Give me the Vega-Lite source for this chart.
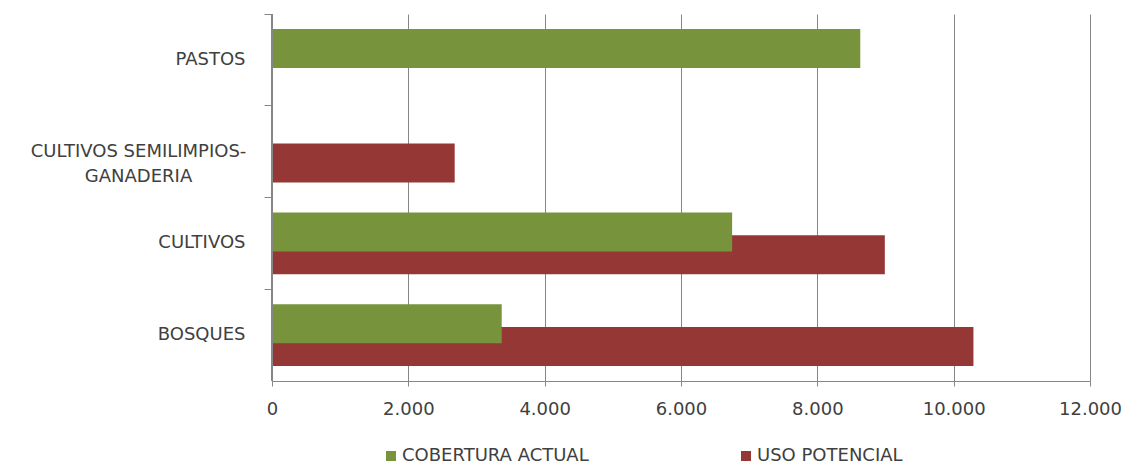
{
  "$schema": "https://vega.github.io/schema/vega-lite/v6.json",
  "width": 818,
  "height": 367,
  "autosize": {"type": "none"},
  "padding": {"left": 272, "top": 14, "right": 35, "bottom": 85},
  "background": "white",
  "config": {
    "view": {"stroke": null},
    "font": "DejaVu Sans",
    "locale": {"number": {"decimal": ",", "thousands": ".", "grouping": [3], "currency": ["$", ""]}},
    "axis": {
      "labelFont": "DejaVu Sans",
      "labelFontSize": 18,
      "labelColor": "#404040",
      "domainColor": "#868686",
      "domainWidth": 1,
      "tickColor": "#868686",
      "gridColor": "#868686",
      "gridOpacity": 1,
      "title": null
    }
  },
  "data": {
    "values": [
      {"uso": "PASTOS", "serie": "COBERTURA ACTUAL", "ha": 8630},
      {"uso": "PASTOS", "serie": "USO POTENCIAL", "ha": 0},
      {"uso": "CULTIVOS SEMILIMPIOS-GANADERIA", "serie": "COBERTURA ACTUAL", "ha": 0},
      {"uso": "CULTIVOS SEMILIMPIOS-GANADERIA", "serie": "USO POTENCIAL", "ha": 2680},
      {"uso": "CULTIVOS", "serie": "COBERTURA ACTUAL", "ha": 6750},
      {"uso": "CULTIVOS", "serie": "USO POTENCIAL", "ha": 8990},
      {"uso": "BOSQUES", "serie": "COBERTURA ACTUAL", "ha": 3370},
      {"uso": "BOSQUES", "serie": "USO POTENCIAL", "ha": 10290}
    ]
  },
  "encoding": {
    "y": {
      "field": "uso",
      "type": "nominal",
      "sort": ["PASTOS", "CULTIVOS SEMILIMPIOS-GANADERIA", "CULTIVOS", "BOSQUES"],
      "scale": {"paddingInner": 0, "paddingOuter": 0},
      "axis": {
        "bandPosition": 0,
        "tickSize": 8,
        "grid": false,
        "domain": true,
        "zindex": 1,
        "labelLineHeight": 25,
        "labelLimit": 300,
        "labelExpr": "datum.value === 'CULTIVOS SEMILIMPIOS-GANADERIA' ? ['CULTIVOS SEMILIMPIOS-', 'GANADERIA'] : datum.value",
        "labelAlign": {"condition": {"test": "datum.value === 'CULTIVOS SEMILIMPIOS-GANADERIA'", "value": "center"}, "value": "right"},
        "labelPadding": {"condition": {"test": "datum.value === 'CULTIVOS SEMILIMPIOS-GANADERIA'", "value": 126}, "value": 19}
      }
    },
    "x": {
      "field": "ha",
      "type": "quantitative",
      "scale": {"domain": [0, 12000], "nice": false},
      "axis": {
        "values": [0, 2000, 4000, 6000, 8000, 10000, 12000],
        "format": ",d",
        "grid": true,
        "tickSize": 5,
        "labelFlush": false,
        "labelPadding": 14
      }
    },
    "color": {
      "field": "serie",
      "type": "nominal",
      "scale": {"domain": ["COBERTURA ACTUAL", "USO POTENCIAL"], "range": ["#77933C", "#953735"]},
      "legend": {
        "title": null,
        "orient": "none",
        "direction": "horizontal",
        "legendX": 110,
        "legendY": 433,
        "padding": 0,
        "symbolType": "square",
        "symbolSize": 100,
        "symbolStrokeWidth": 0,
        "symbolOpacity": 1,
        "labelFont": "DejaVu Sans",
        "labelFontSize": 18,
        "labelColor": "#404040",
        "labelLimit": 400,
        "labelOffset": 2,
        "columnPadding": 148
      }
    }
  },
  "layer": [
    {
      "transform": [{"filter": "datum.serie === 'USO POTENCIAL'"}],
      "mark": {"type": "bar", "height": 39, "yOffset": 11.3}
    },
    {
      "transform": [{"filter": "datum.serie === 'COBERTURA ACTUAL'"}],
      "mark": {"type": "bar", "height": 39, "yOffset": -11.3}
    },
    {
      "mark": {"type": "rule", "color": "#868686", "strokeWidth": 1.2},
      "encoding": {"x": {"datum": 0}, "y": null, "color": null}
    }
  ]
}
